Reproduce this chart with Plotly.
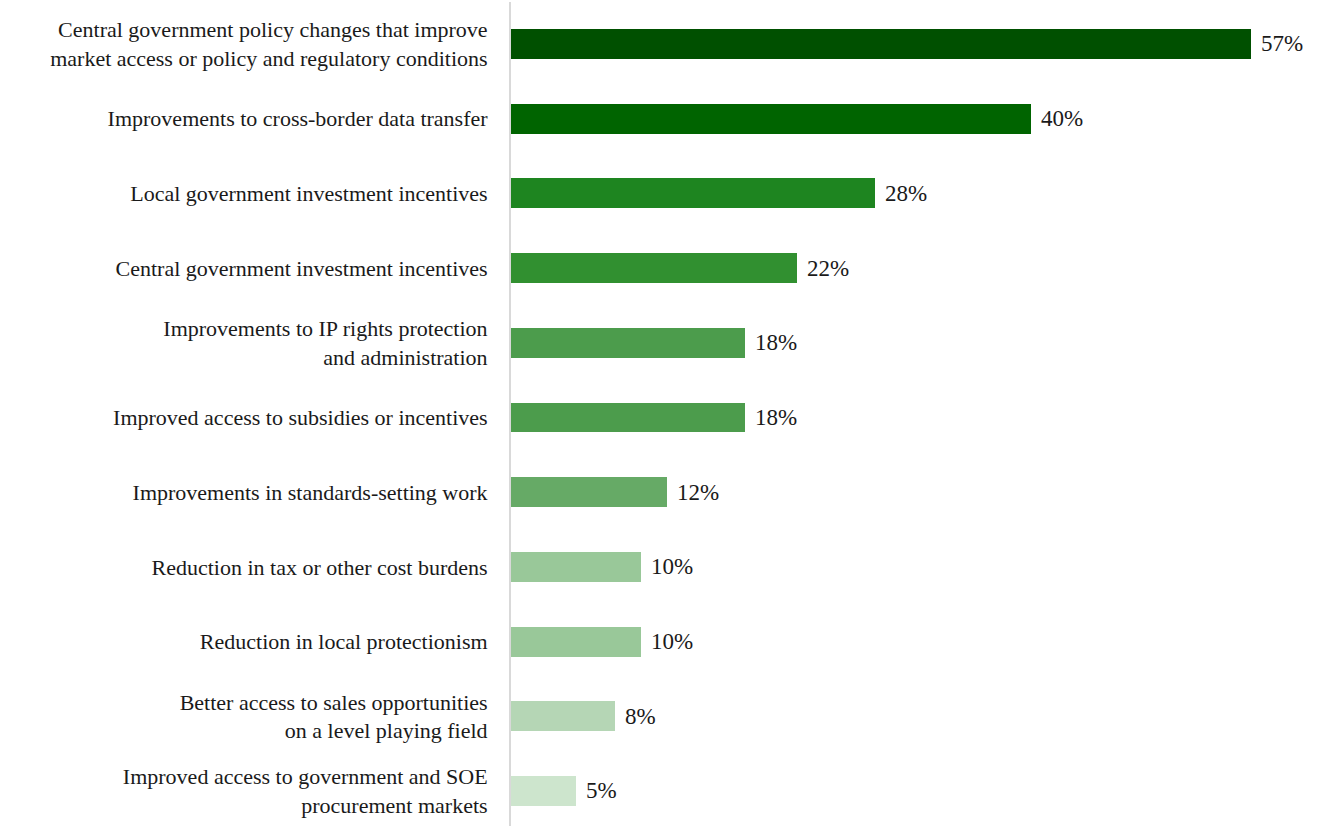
import plotly.graph_objects as go

categories = [
    "Central government policy changes that improve<br>market access or policy and regulatory conditions",
    "Improvements to cross-border data transfer",
    "Local government investment incentives",
    "Central government investment incentives",
    "Improvements to IP rights protection<br>and administration",
    "Improved access to subsidies or incentives",
    "Improvements in standards-setting work",
    "Reduction in tax or other cost burdens",
    "Reduction in local protectionism",
    "Better access to sales opportunities<br>on a level playing field",
    "Improved access to government and SOE<br>procurement markets",
]
values = [57, 40, 28, 22, 18, 18, 12, 10, 10, 8, 5]
colors = [
    "#005000", "#006400", "#1e8520", "#319030", "#4c9c4c", "#4c9c4c",
    "#66aa66", "#99c899", "#99c899", "#b5d6b5", "#cde5cd",
]

font_family = "Liberation Serif, Times New Roman, serif"

fig = go.Figure(
    go.Bar(
        x=values,
        y=list(range(len(categories))),
        orientation="h",
        marker=dict(color=colors, line=dict(width=0)),
        width=0.4,
        hoverinfo="skip",
    )
)

for i, v in enumerate(values):
    fig.add_annotation(
        x=v, y=i, text=f"{v}%", showarrow=False,
        xanchor="left", yanchor="middle", xshift=8,
        font=dict(family=font_family, size=23, color="#1a1a1a"),
    )

fig.update_layout(
    width=1319, height=826,
    margin=dict(l=511, r=0, t=2, b=0),
    paper_bgcolor="white", plot_bgcolor="white",
    showlegend=False,
    font=dict(family=font_family, size=22, color="#1a1a1a"),
    bargap=0,
)
fig.update_xaxes(range=[0, 62.2], visible=False, showgrid=False, zeroline=False)
fig.update_yaxes(
    range=[10.469, -0.562],
    tickmode="array",
    tickvals=list(range(len(categories))),
    ticktext=categories,
    ticks="", showgrid=False, zeroline=False,
    showline=True, linecolor="#d9d9d9", linewidth=2,
    ticklabelstandoff=17,
    tickfont=dict(family=font_family, size=22, color="#1a1a1a"),
)

fig.write_html("out.html")
